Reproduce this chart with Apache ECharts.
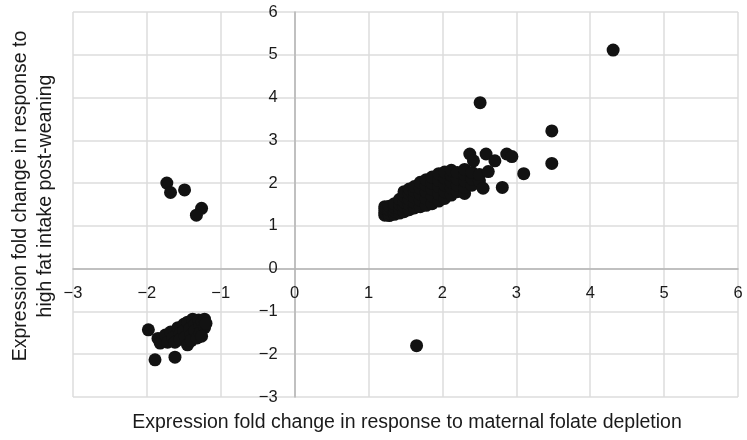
<!DOCTYPE html>
<html>
<head>
<meta charset="utf-8">
<script src="https://cdn.jsdelivr.net/npm/echarts@6/dist/echarts.min.js"></script>
<style>
  html, body { margin: 0; padding: 0; background: #fff; }
  #chart { width: 747px; height: 440px; }
</style>
</head>
<body>
<div id="chart"></div>
<script>
// axis texts
var xName = 'Expression fold change in response to maternal folate depletion'
var yName = 'Expression fold change in response to\nhigh fat intake post-weaning'

// genes up in both (main cluster + outliers)
var upUp = [
  [1.22, 1.25], [1.22, 1.32], [1.22, 1.40], [1.22, 1.45],
  [1.28, 1.24], [1.28, 1.30], [1.28, 1.38], [1.28, 1.46],
  [1.35, 1.27], [1.35, 1.35], [1.35, 1.44], [1.35, 1.52],
  [1.42, 1.30], [1.42, 1.40], [1.42, 1.50], [1.42, 1.62],
  [1.48, 1.33], [1.48, 1.45], [1.48, 1.56], [1.48, 1.70], [1.48, 1.80],
  [1.55, 1.38], [1.55, 1.50], [1.55, 1.62], [1.55, 1.76], [1.55, 1.86],
  [1.62, 1.42], [1.62, 1.55], [1.62, 1.68], [1.62, 1.82], [1.62, 1.92],
  [1.70, 1.45], [1.70, 1.60], [1.70, 1.74], [1.70, 1.88], [1.70, 2.02],
  [1.78, 1.48], [1.78, 1.64], [1.78, 1.80], [1.78, 1.95], [1.78, 2.08],
  [1.86, 1.52], [1.86, 1.70], [1.86, 1.86], [1.86, 2.00], [1.86, 2.14],
  [1.95, 1.58], [1.95, 1.75], [1.95, 1.92], [1.95, 2.06], [1.95, 2.22],
  [2.03, 1.64], [2.03, 1.80], [2.03, 1.96], [2.03, 2.12], [2.03, 2.26],
  [2.12, 1.72], [2.12, 1.88], [2.12, 2.02], [2.12, 2.18], [2.12, 2.30],
  [2.20, 1.80], [2.20, 1.95], [2.20, 2.10], [2.20, 2.25],
  [2.30, 1.76], [2.30, 1.90], [2.30, 2.05], [2.30, 2.20], [2.30, 2.32],
  [2.40, 1.95], [2.40, 2.10], [2.40, 2.25],
  [2.50, 2.05], [2.50, 2.20], [2.55, 1.88], [2.62, 2.27],
  [2.37, 2.68], [2.42, 2.52], [2.59, 2.68], [2.71, 2.52],
  [2.87, 2.68], [2.94, 2.62], [2.81, 1.90], [3.10, 2.22],
  [3.48, 2.46], [3.48, 3.22], [2.51, 3.88], [4.31, 5.11]
]

// down with folate depletion, up with high fat
var downUp = [
  [-1.73, 2.00], [-1.68, 1.78], [-1.49, 1.84], [-1.26, 1.41], [-1.33, 1.25]
]

// up with folate depletion, down with high fat
var upDown = [
  [1.65, -1.80]
]

// genes down in both
var downDown = [
  [-1.98, -1.43], [-1.89, -2.13], [-1.62, -2.07],
  [-1.85, -1.63], [-1.82, -1.74], [-1.75, -1.55], [-1.72, -1.72],
  [-1.68, -1.48], [-1.65, -1.62], [-1.62, -1.72], [-1.58, -1.38],
  [-1.55, -1.52], [-1.55, -1.65], [-1.50, -1.30], [-1.50, -1.45],
  [-1.48, -1.60], [-1.45, -1.78], [-1.45, -1.25], [-1.42, -1.40],
  [-1.40, -1.55], [-1.40, -1.68], [-1.38, -1.18], [-1.35, -1.30],
  [-1.35, -1.45], [-1.32, -1.62], [-1.30, -1.20], [-1.28, -1.35],
  [-1.28, -1.50], [-1.25, -1.25], [-1.22, -1.18], [-1.22, -1.38],
  [-1.26, -1.58], [-1.20, -1.28]
]

var axisMin = -3
var axisMax = 6

var dotColor = '#121212'
var textColor = '#1a1a1a'
var fontFamily = 'Liberation Sans, Arial, sans-serif'

// grid box in px
var W = 747, H = 440
var gLeft = 73, gTop = 12, gRight = 9, gBottom = 43
var gW = W - gLeft - gRight
var gH = H - gTop - gBottom
// shift the axes (line + labels) in to the zero position
var xOffset = -gH * (0 - axisMin) / (axisMax - axisMin)
var yOffset = -gW * (0 - axisMin) / (axisMax - axisMin)

function minus(v) {
  return String(v).replace('-', '\u2212')
}

var common = {
  type: 'scatter',
  symbolSize: 13,
  itemStyle: { color: dotColor, opacity: 1 },
  silent: true
}

var chart = echarts.init(document.getElementById('chart'), null, { renderer: 'canvas' })

var option = {
  animation: false,
  grid: { left: gLeft, top: gTop, right: gRight, bottom: gBottom, containLabel: false },
  xAxis: {
    type: 'value',
    min: axisMin,
    max: axisMax,
    interval: 1,
    position: 'bottom',
    offset: xOffset,
    axisLine: { onZero: false, lineStyle: { color: '#b4b4b4', width: 1.5 } },
    axisTick: { show: false },
    axisLabel: {
      margin: 16,
      fontSize: 16.5,
      color: textColor,
      fontFamily: fontFamily,
      formatter: minus,
      showMinLabel: true,
      showMaxLabel: true
    },
    splitLine: { show: true, lineStyle: { color: '#dcdcdc', width: 1.5 } }
  },
  yAxis: {
    type: 'value',
    min: axisMin,
    max: axisMax,
    interval: 1,
    position: 'left',
    offset: yOffset,
    axisLine: { onZero: false, lineStyle: { color: '#b4b4b4', width: 1.5 } },
    axisTick: { show: false },
    axisLabel: {
      margin: 17,
      fontSize: 16.5,
      color: textColor,
      fontFamily: fontFamily,
      formatter: minus,
      showMinLabel: true,
      showMaxLabel: true
    },
    splitLine: { show: true, lineStyle: { color: '#dcdcdc', width: 1.5 } }
  },
  graphic: [
    {
      type: 'text',
      x: 407,
      y: 423,
      style: {
        text: xName,
        font: '19.5px ' + fontFamily,
        fill: textColor,
        align: 'center',
        verticalAlign: 'middle'
      }
    },
    {
      type: 'text',
      x: 33,
      y: 196,
      rotation: Math.PI / 2,
      style: {
        text: yName,
        font: '19.5px ' + fontFamily,
        fill: textColor,
        align: 'center',
        verticalAlign: 'middle',
        lineHeight: 25
      }
    }
  ],
  series: [
    Object.assign({ name: 'up-up', data: upUp }, common),
    Object.assign({ name: 'down-up', data: downUp }, common),
    Object.assign({ name: 'up-down', data: upDown }, common),
    Object.assign({ name: 'down-down', data: downDown }, common)
  ]
}

chart.setOption(option)
</script>
</body>
</html>
